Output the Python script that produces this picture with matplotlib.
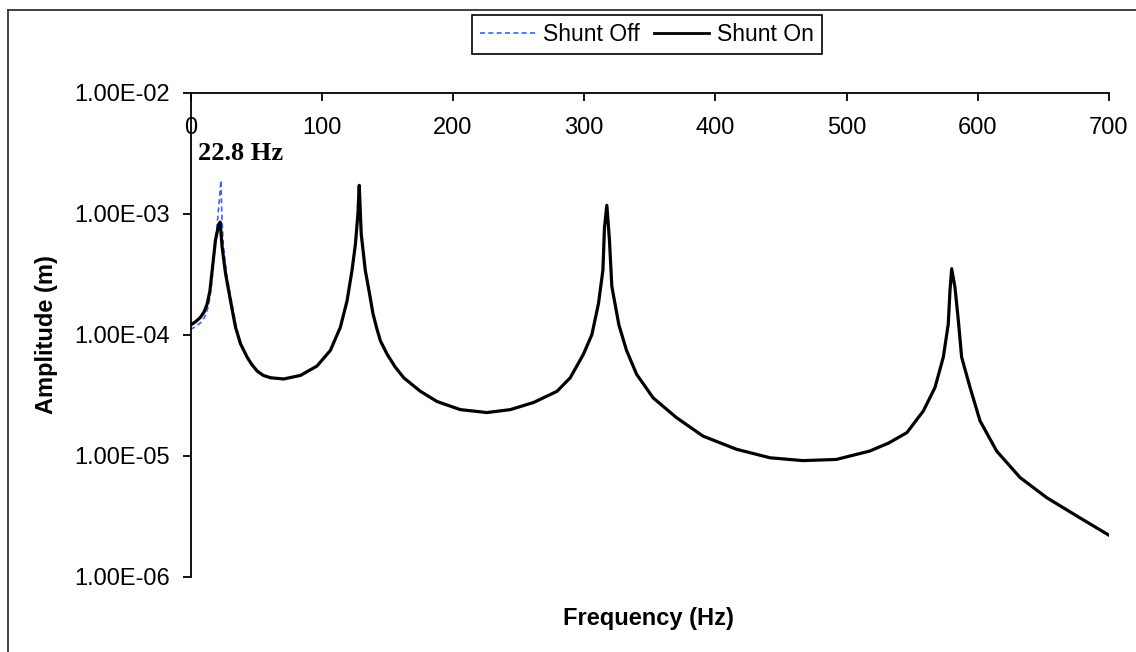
import matplotlib
matplotlib.use("Agg")
import matplotlib.pyplot as plt
from matplotlib.lines import Line2D
from matplotlib.ticker import FixedLocator, NullLocator, FuncFormatter

# ---- data ----
freq_on = [0, 4.0, 7.6, 10.5, 12.7, 14.8, 16.5, 19.0, 21.6, 22.6, 24.1, 26.7, 30.5, 34.3,
           38.1, 43.2, 46.5, 50.8, 55.5, 61.0, 71.0, 83.8, 96.4, 106.6, 114.2,
           119.3, 123.1, 125.7, 127.6, 128.6, 130.1, 133.2, 136.7, 139.0, 142.0,
           144.7, 149.8, 156.0, 162.5, 175.2, 187.9, 205.6, 225.9, 243.7, 261.5,
           279.3, 289.4, 299.5, 305.9, 310.9, 314.3, 315.5, 317.3, 319.3, 321.1,
           326.5, 332.3, 340.0, 352.6, 370.4, 390.6, 416.0, 441.7, 466.7, 492.1,
           517.5, 532.0, 546.0, 558.5, 567.4, 573.7, 577.5, 578.8, 580.1, 582.6,
           585.2, 587.7, 594.1, 601.7, 614.4, 632.2, 652.5, 677.9, 700.0]
amp_on = [1.20e-4, 1.28e-4, 1.39e-4, 1.55e-4, 1.79e-4, 2.3e-4, 3.38e-4, 6.0e-4, 8.2e-4,
          8.5e-4, 5.3e-4, 3.2e-4, 1.9e-4, 1.15e-4, 8.4e-5, 6.5e-5, 5.7e-5, 5.0e-5,
          4.6e-5, 4.4e-5, 4.3e-5, 4.6e-5, 5.5e-5, 7.4e-5, 1.15e-4, 1.9e-4, 3.4e-4,
          5.6e-4, 1.0e-3, 1.71e-3, 6.8e-4, 3.4e-4, 2.1e-4, 1.5e-4, 1.12e-4, 8.9e-5,
          6.9e-5, 5.4e-5, 4.4e-5, 3.4e-5, 2.8e-5, 2.4e-5, 2.27e-5, 2.4e-5, 2.75e-5,
          3.4e-5, 4.4e-5, 6.9e-5, 1.0e-4, 1.8e-4, 3.4e-4, 7.7e-4, 1.17e-3, 6.0e-4,
          2.5e-4, 1.2e-4, 7.4e-5, 4.7e-5, 3.0e-5, 2.06e-5, 1.45e-5, 1.13e-5, 9.6e-6,
          9.1e-6, 9.3e-6, 1.09e-5, 1.27e-5, 1.55e-5, 2.34e-5, 3.66e-5, 6.5e-5,
          1.22e-4, 2.3e-4, 3.5e-4, 2.46e-4, 1.3e-4, 6.5e-5, 3.66e-5, 1.94e-5,
          1.09e-5, 6.6e-6, 4.5e-6, 3.06e-6, 2.2e-6]

freq_off = [0, 4.0, 7.6, 10.5, 12.7, 14.8, 16.5, 17.7, 20.0, 22.0, 23.2, 24.0, 25.0,
            27.4, 31.2, 35.0, 38.5, 43.2, 50.8]
amp_off = [1.10e-4, 1.17e-4, 1.25e-4, 1.38e-4, 1.58e-4, 2.0e-4, 2.9e-4, 4.1e-4,
           7.5e-4, 1.3e-3, 1.88e-3, 9.0e-4, 5.5e-4, 3.2e-4, 1.9e-4, 1.15e-4, 8.4e-5,
           6.5e-5, 5.0e-5]

x_ticks = [0, 100, 200, 300, 400, 500, 600, 700]
y_ticks = [1e-6, 1e-5, 1e-4, 1e-3, 1e-2]
series_labels = ["Shunt Off", "Shunt On"]
peak_label = "22.8 Hz"

W, H = 1136, 652
fig = plt.figure(figsize=(W / 100, H / 100), dpi=100)
fig.patch.set_facecolor("white")

ax_l, ax_r, ax_t, ax_b = 190.5, 1109.0, 92.5, 576.7
ax = fig.add_axes([ax_l / W, 1 - ax_b / H, (ax_r - ax_l) / W, (ax_b - ax_t) / H])

font = "Liberation Sans"

ax.plot(freq_off, amp_off, color="#3a62ff", lw=1.2, ls=(0, (3, 2)), zorder=2)
ax.plot(freq_on, amp_on, color="black", lw=2.3, zorder=3)

ax.set_yscale("log")
ax.set_xlim(0, 700)
ax.set_ylim(1e-6, 1e-2)

for s in ["right", "bottom"]:
    ax.spines[s].set_visible(False)
for s in ["left", "top"]:
    ax.spines[s].set_linewidth(1.3)
    ax.spines[s].set_color("black")

# y axis
ax.yaxis.set_major_locator(FixedLocator(y_ticks))
ax.yaxis.set_minor_locator(NullLocator())
ax.yaxis.set_major_formatter(FuncFormatter(lambda v, p: f"{v:.2E}"))
ax.tick_params(axis="y", direction="out", length=5.5, width=1.3, pad=9.4,
               labelsize=17)
for lab in ax.get_yticklabels():
    lab.set_fontfamily(font)

# x axis on top, ticks pointing inward, labels drawn below the line
ax.xaxis.set_major_locator(FixedLocator(x_ticks))
ax.xaxis.set_minor_locator(NullLocator())
ax.tick_params(axis="x", top=True, bottom=False, labeltop=False, labelbottom=False,
               direction="in", length=5.5, width=1.3)
xt = ax.get_xaxis_transform()
base_frac = (ax_b - 134.0) / (ax_b - ax_t)
for t in x_ticks:
    ax.text(t, base_frac, f"{t}", transform=xt, ha="center", va="baseline",
            fontsize=17, family=font)

# annotation
ax.text(5.7, 2.79e-3, peak_label, fontsize=19, fontweight="bold",
        family="Liberation Serif", ha="left", va="baseline")

# axis titles
fig.text(648 / W, 1 - 618 / H, "Frequency (Hz)", ha="center", va="center",
         fontsize=17, fontweight="bold", family=font)
fig.text(47 / W, 1 - 335 / H, "Amplitude (m)", ha="center", va="center",
         rotation=90, fontsize=17, fontweight="bold", family=font)

# legend
handles = [Line2D([], [], color="#3a62ff", lw=1.2, ls=(0, (3, 2))),
           Line2D([], [], color="black", lw=2.0)]
leg = fig.legend(handles, series_labels, loc="center",
                 bbox_to_anchor=(647 / W, 1 - 34.5 / H), ncol=2, frameon=True,
                 fancybox=False, edgecolor="black", framealpha=1,
                 prop={"family": font, "size": 16.5}, handlelength=2.4,
                 handletextpad=0.35, columnspacing=0.6, borderpad=0.35,
                 borderaxespad=0)
leg.get_frame().set_linewidth(1.2)

# outer chart frame
fig.add_artist(Line2D([8 / W, 1.0], [1 - 10 / H, 1 - 10 / H], transform=fig.transFigure,
                      color="#333333", lw=1.3))
fig.add_artist(Line2D([8 / W, 8 / W], [1 - 10 / H, 0.0], transform=fig.transFigure,
                      color="#333333", lw=1.3))

fig.savefig("out.png", dpi=100, facecolor="white")
